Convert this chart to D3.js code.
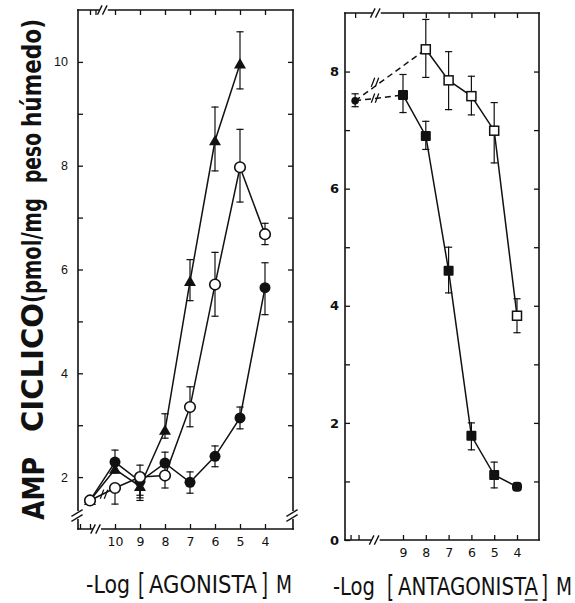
<!DOCTYPE html>
<html><head><meta charset="utf-8">
<script src="https://cdn.jsdelivr.net/npm/d3@7"></script>
<style>body{margin:0;background:#fff}svg{display:block}</style>
</head><body>
<svg id="c" width="575" height="603"></svg>
<script>
// ---------- DATA ----------
// Left panel: -log[agonist] (11 = control position on the broken axis)
const agX = [11, 10, 9, 8, 7, 6, 5, 4];
const triY  = [1.55, 2.15, 1.82, 2.9, 5.77, 8.48, 9.96];
const triHi = [null, null, 2.05, 3.22, 6.19, 9.13, 10.58];
const triLo = [null, null, 1.6, 2.75, 5.4, 7.9, 9.48];
const openY  = [1.55, 1.79, 2.0, 2.03, 3.35, 5.71, 7.97, 6.68];
const openHi = [null, null, 2.23, null, 3.74, 6.33, 8.7, 6.89];
const openLo = [null, 1.48, 1.65, 1.79, 2.97, 5.1, 7.3, 6.48];
const fillY  = [1.55, 2.29, 1.92, 2.27, 1.9, 2.4, 3.14, 5.65];
const fillHi = [null, 2.52, null, 2.48, 2.1, 2.6, 3.35, 6.13];
const fillLo = [null, 2.08, 1.55, 2.05, 1.69, 2.2, 2.93, 5.13];
const agTickLabels = [10, 9, 8, 7, 6, 5, 4];
const leftYTicks = [2, 3, 4, 5, 6, 7, 8, 9, 10];

// Right panel: -log[antagonist] (11.1 = control position)
const ctrlX = 11.1, ctrlY = 7.5, ctrlHi = 7.62, ctrlLo = 7.4;
const antX = [9, 8, 7, 6, 5, 4];
const sqFY  = [7.6, 6.9, 4.6, 1.78, 1.11, 0.91];
const sqFHi = [7.95, 7.15, 5.0, 2.0, 1.33, 0.97];
const sqFLo = [7.3, 6.67, 4.22, 1.54, 0.89, 0.85];
const sqOX  = [8, 7, 6, 5, 4];
const sqOY  = [8.38, 7.85, 7.58, 6.99, 3.83];
const sqOHi = [8.89, 8.34, 7.92, 7.47, 4.12];
const sqOLo = [7.9, 7.35, 7.26, 6.44, 3.54];
const antTickLabels = [9, 8, 7, 6, 5, 4];
const rightYTicks = [0, 1, 2, 3, 4, 5, 6, 7, 8];

// ---------- DRAW ----------
const svg = d3.select("#c");
const ink = "#111";
const L = {x0: 78, x1: 293, y0: 10, y1: 529};
const R = {x0: 345, x1: 539, y0: 13, y1: 540};
const xL = d3.scaleLinear().domain([11, 4]).range([90, 265]);
const yL = d3.scaleLinear().domain([1, 11]).range([529, 10]);
const xR = d3.scaleLinear().domain([9, 4]).range([403, 517]);
const yR = d3.scaleLinear().domain([0, 9]).range([540, 13]);

function styleAxis(g) {
  g.select(".domain").remove();
  g.selectAll(".tick line").attr("stroke", ink).attr("stroke-width", 1.3);
  g.selectAll("text").attr("fill", ink);
}
function seg(x1, y1, x2, y2, w) {
  svg.append("line").attr("x1", x1).attr("y1", y1).attr("x2", x2).attr("y2", y2)
    .attr("stroke", ink).attr("stroke-width", w || 1.6).attr("stroke-linecap", "square");
}
function hBreak(x, y) {
  svg.append("rect").attr("x", x - 4).attr("y", y - 2).attr("width", 8).attr("height", 4).attr("fill", "#fff");
  seg(x - 6, y + 4, x - 2, y - 4, 1.4);
  seg(x - 1, y + 4, x + 3, y - 4, 1.4);
}
function vBreak(x, y) {
  svg.append("rect").attr("x", x - 2).attr("y", y - 4).attr("width", 4).attr("height", 8).attr("fill", "#fff");
  seg(x - 6, y + 1, x + 4, y - 5, 1.4);
  seg(x - 6, y + 6, x + 4, y, 1.4);
}

// ---- Left frame ----
seg(L.x0, L.y0, L.x1, L.y0);
seg(L.x0, L.y1, L.x1, L.y1);
seg(L.x0, L.y0, L.x0, L.y1);
seg(L.x1, L.y0, L.x1, L.y1);
svg.append("g").attr("transform", `translate(${L.x0},0)`)
  .call(d3.axisLeft(yL).tickValues(leftYTicks).tickSize(-5).tickPadding(10)
    .tickFormat(d => d % 2 === 0 ? d : ""))
  .call(styleAxis)
  .selectAll("text").attr("font-family", "Liberation Sans, Arial, sans-serif").attr("font-size", 12.5);
svg.append("g").attr("transform", `translate(${L.x1},0)`)
  .call(d3.axisRight(yL).tickValues(leftYTicks).tickSize(-5).tickFormat(""))
  .call(styleAxis);
svg.append("g").attr("transform", `translate(0,${L.y1})`)
  .call(d3.axisBottom(xL).tickValues([11.4, 11].concat(agTickLabels)).tickSize(-5).tickPadding(8)
    .tickFormat(d => agTickLabels.includes(d) ? d : ""))
  .call(styleAxis)
  .selectAll("text").attr("font-family", "DejaVu Sans, sans-serif").attr("font-size", 12.5);
svg.append("g").attr("transform", `translate(0,${L.y0})`)
  .call(d3.axisTop(xL).tickValues([11, 10.78].concat(agTickLabels)).tickSize(-5).tickFormat(""))
  .call(styleAxis);
hBreak(xL(10.72), L.y1);
hBreak(xL(10.45), L.y0);
vBreak(L.x0, yL(1.27));
vBreak(L.x1, yL(1.27));

// ---- Right frame ----
seg(R.x0, R.y0, R.x1, R.y0);
seg(R.x0, R.y1, R.x1, R.y1);
seg(R.x0, R.y0, R.x0, R.y1);
seg(R.x1, R.y0, R.x1, R.y1);
svg.append("g").attr("transform", `translate(${R.x0},0)`)
  .call(d3.axisLeft(yR).tickValues(rightYTicks).tickSize(-5).tickPadding(6)
    .tickFormat(d => d % 2 === 0 ? d : ""))
  .call(styleAxis)
  .selectAll("text").attr("font-family", "DejaVu Sans, sans-serif").attr("font-weight", "bold").attr("font-size", 13);
svg.append("g").attr("transform", `translate(${R.x1},0)`)
  .call(d3.axisRight(yR).tickValues(rightYTicks.slice(1)).tickSize(-5).tickFormat(""))
  .call(styleAxis);
svg.append("g").attr("transform", `translate(0,${R.y1})`)
  .call(d3.axisBottom(xR).tickValues([11.3, 10.95].concat(antTickLabels)).tickSize(-5).tickPadding(8)
    .tickFormat(d => antTickLabels.includes(d) ? d : ""))
  .call(styleAxis)
  .selectAll("text").attr("font-family", "DejaVu Sans, sans-serif").attr("font-size", 12.5);
svg.append("g").attr("transform", `translate(0,${R.y0})`)
  .call(d3.axisTop(xR).tickValues([ctrlX].concat(antTickLabels)).tickSize(-5).tickFormat(""))
  .call(styleAxis);
hBreak(xR(10.2), R.y1);
hBreak(xR(10.15), R.y0);

// ---- Series helpers ----
function pts(xs, ys, hi, lo) { return xs.slice(0, ys.length).map((x, i) => ({x, y: ys[i], hi: hi[i], lo: lo[i]})); }
function drawLine(data, sx, sy, dash) {
  svg.append("path").datum(data)
    .attr("d", d3.line().x(d => sx(d.x)).y(d => sy(d.y)))
    .attr("fill", "none").attr("stroke", ink).attr("stroke-width", 1.5)
    .attr("stroke-dasharray", dash || null);
}
function drawErr(data, sx, sy) {
  data.forEach(d => {
    const x = sx(d.x);
    const top = d.hi != null ? sy(d.hi) : sy(d.y);
    const bot = d.lo != null ? sy(d.lo) : sy(d.y);
    seg(x, top, x, bot, 1.2);
    if (d.hi != null) seg(x - 3, top, x + 3, top, 1.2);
    if (d.lo != null) seg(x - 3, bot, x + 3, bot, 1.2);
  });
}
function lineBreakMark(x, y) {
  seg(x - 3, y + 4, x, y - 4, 1.3);
  seg(x + 1, y + 4, x + 4, y - 4, 1.3);
}

// ---- Left series ----
const tri = pts(agX, triY, triHi, triLo);
const opn = pts(agX, openY, openHi, openLo);
const fil = pts(agX, fillY, fillHi, fillLo);
[tri, opn, fil].forEach(s => drawErr(s, xL, yL));
[tri, opn, fil].forEach(s => drawLine(s, xL, yL));
lineBreakMark((xL(opn[0].x) + xL(opn[1].x)) / 2 + 1, (yL(opn[0].y) + yL(opn[1].y)) / 2);

svg.append("g").selectAll("path").data(tri).join("path")
  .attr("transform", d => `translate(${xL(d.x)},${yL(d.y) + 1})`)
  .attr("d", d3.symbol(d3.symbolTriangle, 62)).attr("fill", ink);
svg.append("g").selectAll("circle").data(fil).join("circle")
  .attr("cx", d => xL(d.x)).attr("cy", d => yL(d.y)).attr("r", 5.5).attr("fill", ink);
svg.append("g").selectAll("circle").data(opn).join("circle")
  .attr("cx", d => xL(d.x)).attr("cy", d => yL(d.y)).attr("r", 5.3)
  .attr("fill", "#fff").attr("stroke", ink).attr("stroke-width", 1.6);

// ---- Right series ----
const ctrl = {x: ctrlX, y: ctrlY, hi: ctrlHi, lo: ctrlLo};
const sqF = pts(antX, sqFY, sqFHi, sqFLo);
const sqO = pts(sqOX, sqOY, sqOHi, sqOLo);
drawErr([ctrl], xR, yR);
drawErr(sqF, xR, yR);
drawErr(sqO, xR, yR);
drawLine([ctrl, sqF[0]], xR, yR, "6,4");
drawLine([ctrl, sqO[0]], xR, yR, "6,4");
drawLine(sqF, xR, yR);
drawLine(sqO, xR, yR);
lineBreakMark(xR(10.25), yR(ctrlY + (sqFY[0] - ctrlY) * 0.45));
lineBreakMark(xR(10.25), yR(ctrlY + (sqOY[0] - ctrlY) * 0.36));

svg.append("circle").attr("cx", xR(ctrl.x)).attr("cy", yR(ctrl.y)).attr("r", 3.8).attr("fill", ink);
svg.append("g").selectAll("rect").data(sqF).join("rect")
  .attr("x", d => xR(d.x) - 5).attr("y", d => yR(d.y) - 5).attr("width", 10).attr("height", 10)
  .attr("rx", (d, i) => i === sqF.length - 1 ? 4 : 1).attr("fill", ink);
svg.append("g").selectAll("rect").data(sqO).join("rect")
  .attr("x", d => xR(d.x) - 4.5).attr("y", d => yR(d.y) - 4.5).attr("width", 9).attr("height", 9)
  .attr("fill", "#fff").attr("stroke", ink).attr("stroke-width", 1.5);

// ---- Y title (rotated, bold condensed) ----
function vtext(str, yStart, len, size, xBase) {
  svg.append("text").text(str)
    .attr("transform", `translate(${xBase},${yStart}) rotate(-90)`)
    .attr("font-family", "DejaVu Sans Condensed, DejaVu Sans, sans-serif")
    .attr("font-stretch", "condensed")
    .attr("font-weight", "bold").attr("font-size", size)
    .attr("textLength", len).attr("lengthAdjust", "spacingAndGlyphs").attr("fill", ink);
}
vtext("AMP", 520, 63, 31, 44);
vtext("CICLICO", 432, 129, 31, 43);
vtext("(pmol/mg", 303, 105, 26, 41);
vtext("peso", 183, 50, 26, 41);
vtext("húmedo)", 127, 108, 26, 41);

// ---- X titles: separate pieces, horizontally scaled to their reference widths ----
function ptext(str, x, y, w, size) {
  const t = svg.append("text").text(str).attr("x", 0).attr("y", 0)
    .attr("font-family", "DejaVu Sans Condensed, DejaVu Sans, sans-serif")
    .attr("font-stretch", "condensed").attr("font-size", size).attr("fill", ink);
  const nat = t.node().getComputedTextLength();
  const k = w / nat;
  t.attr("transform", `translate(${x},${y}) scale(${k},1)`);
  return {t, k};
}
ptext("-Log", 86, 593, 44, 25);
ptext("[", 138, 595, 7, 30);
ptext("AGONISTA", 149, 593, 108, 25);
ptext("]", 261, 595, 7, 30);
ptext("M", 276, 593, 16, 25);

ptext("-Log", 333, 595, 42, 25);
ptext("[", 387, 597, 7, 30);
const ant = ptext("ANTAGONISTA", 398, 595, 140, 25);
ptext("]", 541, 597, 7, 30);
ptext("M", 556, 595, 16, 25);
// underline beneath the final "A" of ANTAGONISTA
{
  const n = ant.t.node();
  const i = "ANTAGONISTA".length - 1;
  const a = 398 + n.getStartPositionOfChar(i).x * ant.k;
  const b = 398 + n.getEndPositionOfChar(i).x * ant.k;
  seg(a + 1, 600, b - 1, 600, 1.4);
}
</script>
</body></html>
